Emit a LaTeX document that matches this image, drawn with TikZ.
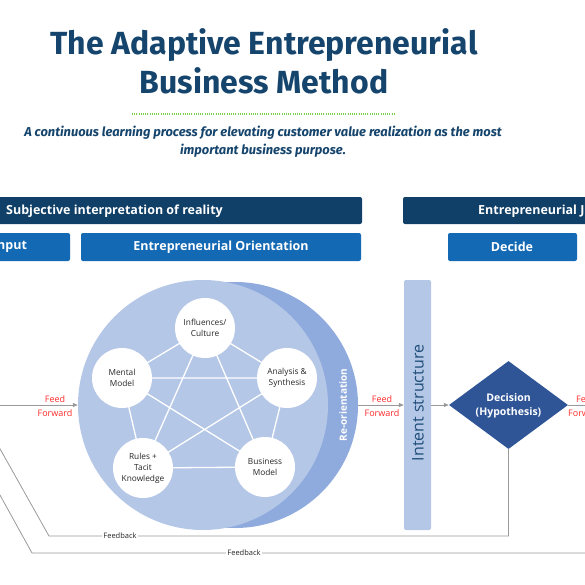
\documentclass[tikz,border=0pt]{standalone}
\usepackage{fontspec}
\setmainfont{Open Sans}
\newfontfamily\titlefont{Fira Sans}
\usetikzlibrary{arrows.meta,shapes.geometric}
\definecolor{navy}{HTML}{104067}
\definecolor{midblue}{HTML}{1369B3}
\definecolor{titleblue}{HTML}{15446C}
\definecolor{lightcirc}{HTML}{B4C7E7}
\definecolor{darkcirc}{HTML}{8FAADC}
\definecolor{diamondblue}{HTML}{2F5597}
\definecolor{intentblue}{HTML}{1F4E79}
\definecolor{lgrey}{HTML}{999999}
\definecolor{ffred}{HTML}{FF2A2A}
\definecolor{dotgreen}{HTML}{7CCF4A}
\definecolor{txtgrey}{HTML}{262626}
\tikzset{
  topbox/.style={fill=navy, rounded corners=2pt},
  subbox/.style={fill=midblue, rounded corners=2pt},
  boxtext/.style={text=white, font=\bfseries\fontsize{12.5}{14}\selectfont, inner sep=0pt},
  element/.style={circle, fill=white, minimum size=60pt, inner sep=0pt, align=center,
     text=txtgrey, font=\fontsize{8.3}{11}\selectfont},
  starline/.style={draw=white, line width=1.3pt},
  flow/.style={draw=lgrey, line width=0.8pt},
  flowarrow/.style={flow, -{Triangle[length=5pt,width=4pt]}},
  fftext/.style={text=ffred, font=\fontsize{9}{11}\selectfont, inner sep=0pt},
  fbtext/.style={fill=white, text=txtgrey, font=\fontsize{7.5}{9}\selectfont, inner sep=1.5pt},
}
\begin{document}
\begin{tikzpicture}[x=1pt,y=-1pt]
\useasboundingbox (0,0) rectangle (585,585);
\clip (0,0) rectangle (585,585);

% title
\node[anchor=base, font=\titlefont\bfseries\fontsize{32}{36}\selectfont, text=titleblue, inner sep=0pt] (t1) at (264,55) {The Adaptive Entrepreneurial};
\node[anchor=base, font=\titlefont\bfseries\fontsize{32}{36}\selectfont, text=titleblue, inner sep=0pt] (t2) at (264,94) {Business Method};
\coordinate (g1) at (132,114);
\coordinate (g2) at (395,114);
\draw[dotgreen, line width=1.2pt, dash pattern=on 1pt off 1.2pt] (g1) -- (g2);
\node[anchor=base, font=\titlefont\bfseries\itshape\fontsize{12.9}{15}\selectfont, text=titleblue, inner sep=0pt] (s1) at (263,137) {A continuous learning process for elevating customer value realization as the most};
\node[anchor=base, font=\titlefont\bfseries\itshape\fontsize{12.9}{15}\selectfont, text=titleblue, inner sep=0pt] (s2) at (263,155) {important business purpose.};

% header boxes
\path[topbox] (-140,197) rectangle (362,224);
\node[boxtext, anchor=west] (h1) at (6,211) {Subjective interpretation of reality};
\path[topbox] (403,197) rectangle (720,224);
\node[boxtext, anchor=west] (h2) at (478,211) {Entrepreneurial Judgment};
\path[subbox] (-60,233) rectangle (70,261);
\node[boxtext] (b1) at (10,247) {Input};
\path[subbox] (81,233) rectangle (361,261);
\node[boxtext] (b2) at (221,247) {Entrepreneurial Orientation};
\path[subbox] (448,233) rectangle (577,261);
\node[boxtext] (b3) at (512,247) {Decide};

% big circles
\node[circle, fill=darkcirc, minimum size=246pt, inner sep=0pt] (outer) at (235,405) {};
\node[circle, fill=lightcirc, minimum size=250pt, inner sep=0pt] (inner) at (203,405) {};
\node[rotate=90, text=white, font=\bfseries\fontsize{10}{12}\selectfont] (reo) at (343,405) {Re-orientation};

% star
\coordinate (pA) at (205,328);
\coordinate (pB) at (287,378);
\coordinate (pC) at (265,467);
\coordinate (pD) at (143,468);
\coordinate (pE) at (122,378);
\draw[starline] (pA) -- (pB) -- (pC) -- (pD) -- (pE) -- cycle;
\draw[starline] (pA) -- (pC) (pA) -- (pD) (pB) -- (pD) (pB) -- (pE) (pC) -- (pE);
\node[element] (infl) at (pA) {Influences/\\Culture};
\node[element] (anal) at (pB) {Analysis \&\\Synthesis};
\node[element] (busi) at (pC) {Business\\Model};
\node[element] (rule) at (pD) {Rules +\\Tacit\\Knowledge};
\node[element] (ment) at (pE) {Mental\\Model};

% intent structure
\node[fill=lightcirc, rounded corners=2pt, minimum width=27pt, minimum height=250pt, inner sep=0pt] (intent) at (417.5,405) {};
\node[rotate=90, text=intentblue, font=\fontsize{16}{18}\selectfont] (intenttxt) at (418,403) {Intent structure};

% decision
\node[diamond, fill=diamondblue, minimum width=119pt, minimum height=88pt, inner sep=0pt, aspect=1.35] (dec) at (508.5,405) {};
\node[text=white, font=\bfseries\fontsize{10.5}{14}\selectfont, align=center] (dectxt) at (508.5,406) {Decision\\(Hypothesis)};

% feed forward arrows
\coordinate (in0) at (-5,405);
\draw[flowarrow] (in0) -- (inner.west);
\node[fftext] (ff1a) at (55,399) {Feed};
\node[fftext] (ff1b) at (55,413) {Forward};
\draw[flowarrow] (outer.east) -- (intent.west);
\node[fftext] (ff2a) at (382,399) {Feed};
\node[fftext] (ff2b) at (382,413) {Forward};
\draw[flowarrow] (intent.east) -- (dec.west);
\coordinate (out0) at (600,405);
\draw[flow] (dec.east) -- (out0);
\node[fftext, anchor=west] (ff3a) at (576,399) {Feed};
\node[fftext, anchor=west] (ff3b) at (568,413) {Forward};

% feedback lines
\coordinate (fb1a) at (508.5,536);
\coordinate (fb1b) at (49,536);
\coordinate (fb1c) at (-10,431);
\draw[flow] (dec.south) -- (fb1a) -- (fb1b) -- (fb1c);
\node[fbtext] (fbl1) at (120,536) {Feedback};
\coordinate (fb2a) at (600,553);
\coordinate (fb2b) at (32,553);
\coordinate (fb2c) at (-10,477);
\draw[flow] (fb2a) -- (fb2b) -- (fb2c);
\node[fbtext] (fbl2) at (244,553) {Feedback};
\end{tikzpicture}
\end{document}
